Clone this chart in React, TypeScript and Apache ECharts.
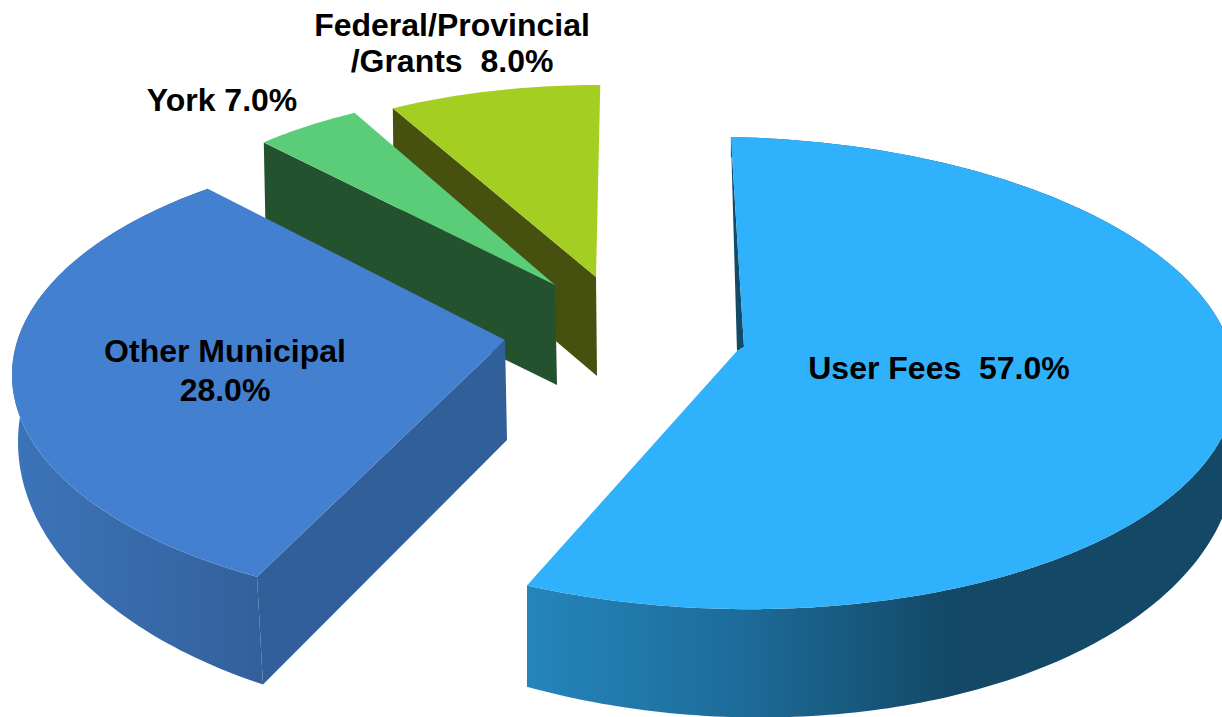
import React, { useEffect, useRef } from "react";
import * as echarts from "echarts";

// Data, in drawing order (back to front)
const categories = ["Federal/Provincial\n/Grants", "York", "Other Municipal", "User Fees"];
const separators = ["  ", " ", "\n", "  "];
const values = [8.0, 7.0, 28.0, 57.0];

type Ell = { cx: number; cy: number; rx: number; ry: number; tilt?: number };
type Layout = {
  apex: number[];
  apexBottom: number[];
  apexInner?: number[];
  top: Ell;
  bottom: Ell;
  t0: number;
  angleScale: number;
  face: string;
  wallFill?: any;
  cutFill: string;
  showCut: boolean;
  label: { x: number; y: number; lineHeight: number };
};

const hGrad = (stops: [number, string][]) => ({
  type: "linear",
  x: 0,
  y: 0,
  x2: 1,
  y2: 0,
  colorStops: stops.map(([offset, color]) => ({ offset, color })),
});

const layouts: Layout[] = [
  {
    apex: [596, 277],
    apexBottom: [597, 376],
    top: { cx: 598, cy: 277, rx: 430, ry: 192 },
    bottom: { cx: 599, cy: 376, rx: 430, ry: 196 },
    t0: 331.5,
    angleScale: 1,
    face: "#a5ce23",
    cutFill: "#47510f",
    showCut: true,
    label: { x: 452, y: 43, lineHeight: 36 },
  },
  {
    apex: [555, 285],
    apexBottom: [557, 385],
    top: { cx: 555, cy: 285, rx: 427, ry: 195 },
    bottom: { cx: 557, cy: 385, rx: 427, ry: 195 },
    t0: 317,
    angleScale: 0.595,
    face: "#5bcd78",
    cutFill: "#25522e",
    showCut: true,
    label: { x: 222, y: 100, lineHeight: 36 },
  },
  {
    apex: [505, 340],
    apexBottom: [507, 440],
    top: { cx: 502, cy: 375, rx: 490, ry: 233 },
    bottom: { cx: 508, cy: 442, rx: 490, ry: 280 },
    t0: 210,
    angleScale: 1.122,
    face: "#4480d0",
    wallFill: hGrad([
      [0, "#3c74b9"],
      [0.6, "#3768a8"],
      [1, "#32609c"],
    ]),
    cutFill: "#315f9a",
    showCut: true,
    label: { x: 225, y: 370, lineHeight: 39 },
  },
  {
    apex: [737, 351],
    apexBottom: [742, 440],
    apexInner: [744, 347],
    top: { cx: 730, cy: 373, rx: 506, ry: 236, tilt: 0.018 },
    bottom: { cx: 730, cy: 437, rx: 506, ry: 280, tilt: 0.033 },
    t0: 0.1,
    angleScale: 0.992,
    face: "#30b1fb",
    wallFill: hGrad([
      [0, "#2585bb"],
      [0.3, "#1d6c9a"],
      [0.6, "#134866"],
      [1, "#134866"],
    ]),
    cutFill: "#124a68",
    showCut: false,
    label: { x: 939, y: 368, lineHeight: 38 },
  },
];

const pointOn = (e: Ell, deg: number) => {
  const r = (deg * Math.PI) / 180;
  const dx = e.rx * Math.sin(r);
  return [e.cx + dx, e.cy - e.ry * Math.cos(r) + (e.tilt || 0) * dx];
};

const arc = (e: Ell, a: number, b: number) => {
  const n = Math.max(2, Math.ceil(Math.abs(b - a)));
  const pts: number[][] = [];
  for (let i = 0; i <= n; i++) pts.push(pointOn(e, a + ((b - a) * i) / n));
  return pts;
};

const renderItem = (params: any, api: any) => {
  const i = params.dataIndex;
  const value = api.value(0) as number;
  const l = layouts[i];
  const t1 = l.t0 + value * 3.6 * l.angleScale;
  const topArc = arc(l.top, l.t0, t1);
  const botArc = arc(l.bottom, l.t0, t1);

  const children: any[] = [];
  if (l.wallFill) {
    children.push({
      type: "polygon",
      shape: { points: [...topArc, ...botArc.slice().reverse()] },
      style: { fill: l.wallFill },
    });
  }
  if (l.showCut) {
    children.push({
      type: "polygon",
      shape: { points: [topArc[0], l.apex, l.apexBottom, botArc[0]] },
      style: { fill: l.cutFill },
    });
  }
  if (l.apexInner) {
    children.push({
      type: "polygon",
      shape: { points: [topArc[0], l.apex, l.apexInner] },
      style: { fill: l.cutFill },
    });
  }
  children.push({
    type: "polygon",
    shape: { points: l.apexInner ? [...topArc, l.apex, l.apexInner] : [...topArc, l.apex] },
    style: { fill: l.face },
  });
  children.push({
    type: "text",
    z2: 10,
    style: {
      text: `${categories[i]}${separators[i]}${value.toFixed(1)}%`,
      x: l.label.x,
      y: l.label.y,
      align: "center",
      verticalAlign: "middle",
      fill: "#000",
      font: 'bold 32px "Liberation Sans", Arial, sans-serif',
      lineHeight: l.label.lineHeight,
    },
  });
  return { type: "group", children };
};

export default function App() {
  const ref = useRef<HTMLDivElement>(null);
  useEffect(() => {
    document.body.style.margin = "0";
    document.body.style.background = "#fff";
    const chart = echarts.init(ref.current!, undefined, { renderer: "svg" });
    chart.setOption({
      animation: false,
      backgroundColor: "#ffffff",
      series: [
        {
          type: "custom",
          coordinateSystem: "none",
          silent: true,
          renderItem,
          data: values.map((v) => [v]),
        },
      ],
    });
    return () => chart.dispose();
  }, []);
  return <div ref={ref} style={{ width: 1222, height: 717, overflow: "hidden" }} />;
}
